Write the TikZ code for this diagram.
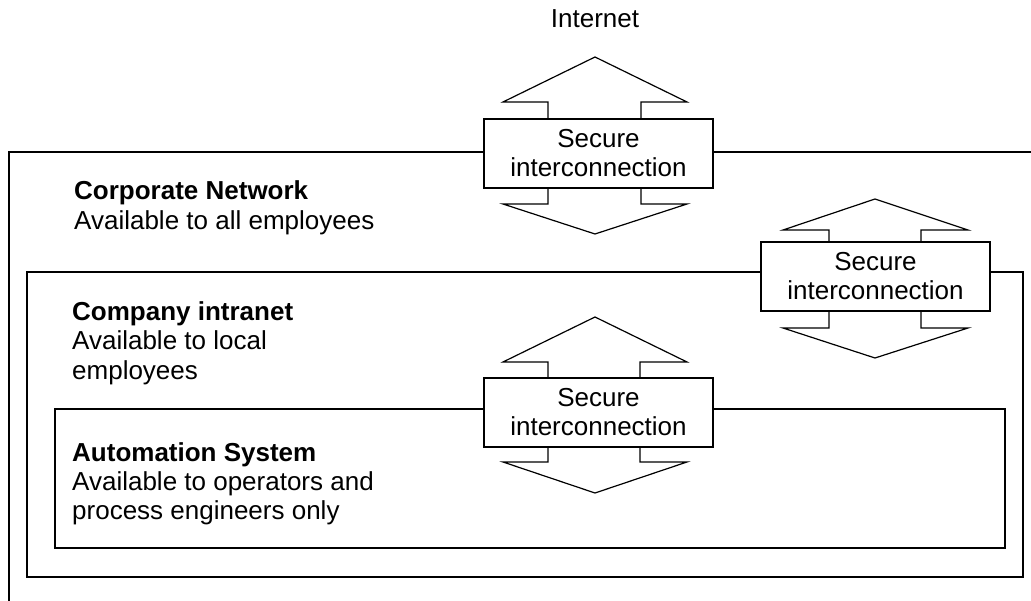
\documentclass[tikz,border=0pt]{standalone}
\usepackage{fontspec}
\setmainfont{Liberation Sans}
\begin{document}
\begin{tikzpicture}[x=1pt,y=-1pt,
  frame/.style={draw=black, line width=1.2pt},
  blockarrow/.style={draw=black, fill=white, line width=1.2pt, line join=miter},
  secbox/.style={draw=black, fill=white, line width=1.2pt,
    minimum width=229pt, minimum height=69pt, align=center, inner sep=0pt,
    font=\fontsize{26}{29}\selectfont},
  lbl/.style={anchor=base west, inner sep=0pt, font=\fontsize{26}{29}\selectfont},
  heading/.style={lbl, font=\fontsize{26}{29}\selectfont\bfseries}]

\path[use as bounding box] (0,0) rectangle (1031,601);

% network zones
\draw[frame] (9,601) -- (9,152) -- (1031,152);
\draw[frame] (27,272) rectangle (1023,577);
\draw[frame] (55,409) rectangle (1005,548);

% double-headed block arrows behind the gateways
\draw[blockarrow] (595,57) -- (687,102) -- (641,102) -- (641,204) -- (687,204)
  -- (595,234) -- (503,204) -- (548,204) -- (548,102) -- (503,102) -- cycle;
\draw[blockarrow] (875,199) -- (968,230) -- (921,230) -- (921,328) -- (968,328)
  -- (875,358) -- (783,328) -- (829,328) -- (829,230) -- (783,230) -- cycle;
\draw[blockarrow] (595,317) -- (687,362) -- (640,362) -- (640,462) -- (687,462)
  -- (595,493) -- (503,462) -- (548,462) -- (548,362) -- (503,362) -- cycle;

% gateways
\node[secbox] (gwInternet) at (598.5,153.5) {Secure\\interconnection};
\node[secbox] (gwCorporate) at (875.5,276.5) {Secure\\interconnection};
\node[secbox] (gwIntranet) at (598.5,412.5) {Secure\\interconnection};

% labels
\node[lbl, anchor=base] (internet) at (595,28) {Internet};

\node[heading] (corpTitle) at (74,200) {Corporate Network};
\node[lbl] (corpText) at (74,230) {Available to all employees};

\node[heading] (intraTitle) at (72,321) {Company intranet};
\node[lbl] (intraText1) at (72,350) {Available to local};
\node[lbl] (intraText2) at (72,380) {employees};

\node[heading] (autoTitle) at (72,461) {Automation System};
\node[lbl] (autoText1) at (72,490) {Available to operators and};
\node[lbl] (autoText2) at (72,519) {process engineers only};
\end{tikzpicture}
\end{document}
